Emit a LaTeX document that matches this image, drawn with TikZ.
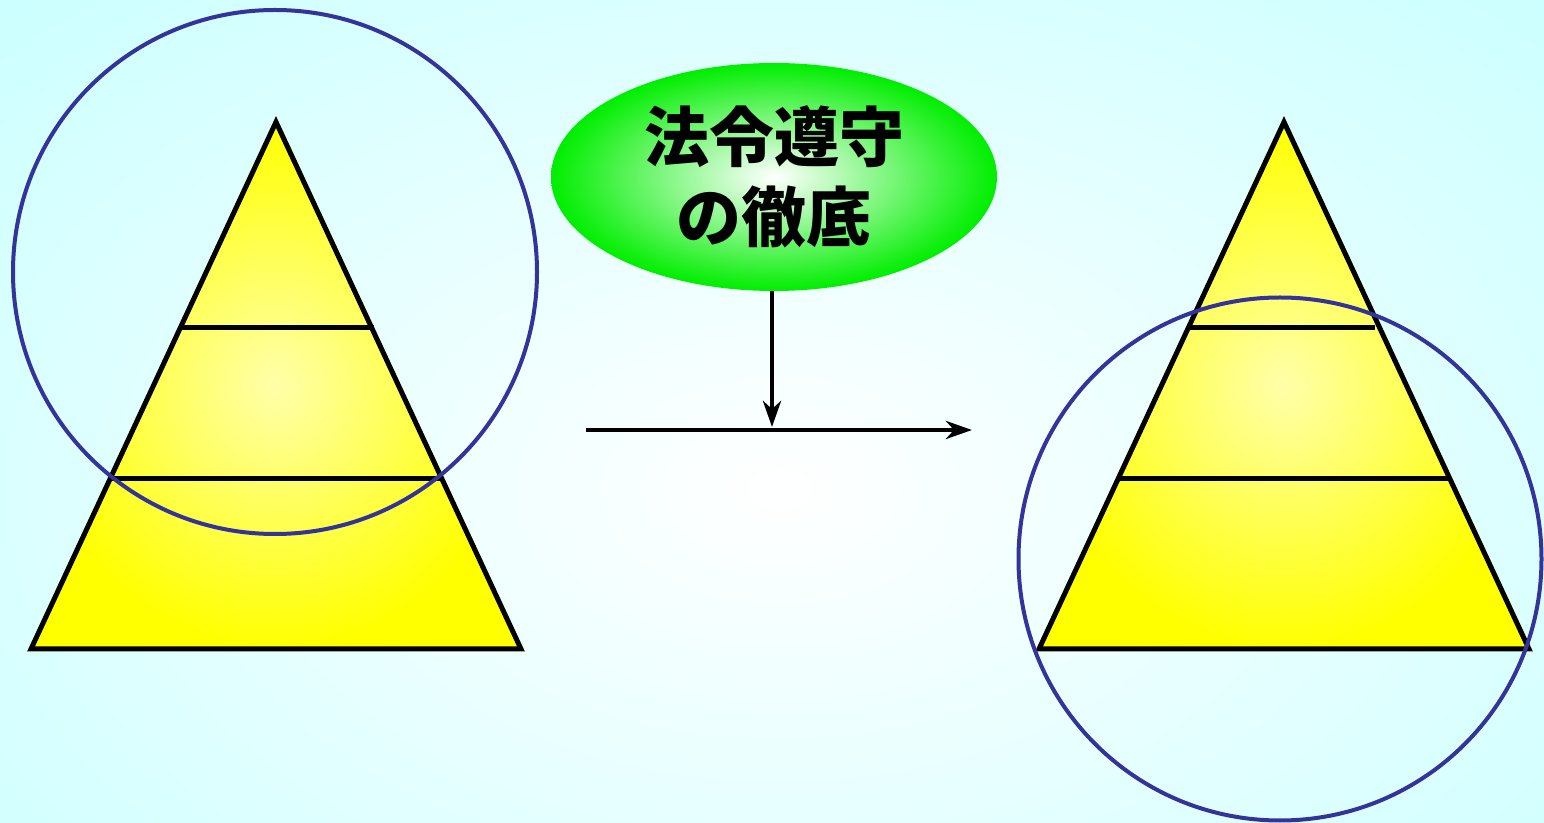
\documentclass[tikz,border=0pt]{standalone}
\usepackage{fontspec}
\newfontfamily\cjk{Noto Sans CJK JP}
\usetikzlibrary{shapes.geometric,arrows.meta}
\definecolor{bgcyan}{HTML}{CCFFFF}
\definecolor{ringblue}{HTML}{333399}
\definecolor{lightyel}{HTML}{FFFFAA}
\definecolor{brightgreen}{HTML}{00EE00}
\tikzset{
  pyramid/.style={draw=black, line width=2.5pt, line join=miter, shading=radial, inner color=lightyel, outer color=yellow},
  tier/.style={draw=black, line width=2.5pt},
  ring/.style={draw=ringblue, line width=2pt},
  flow/.style={draw=black, line width=2.4pt, -{Stealth[length=13pt, width=9pt, inset=4pt]}},
  goal/.style={ellipse, minimum width=223pt, minimum height=114pt, inner sep=0pt, shading=radial, inner color=white, outer color=brightgreen, font=\cjk\bfseries\fontsize{32.5}{40}\selectfont, align=center, text=black}
}
\begin{document}
\begin{tikzpicture}[x=0.5pt,y=-0.5pt]
\useasboundingbox (0,0) rectangle (1544,823);
\shade[inner color=white, outer color=bgcyan] (-300,-200) rectangle (1860,1180);
% left pyramid
\coordinate (LA) at (276,122);
\coordinate (LB) at (31,649);
\coordinate (LC) at (521,649);
\path[pyramid] (LA) -- (LB) -- (LC) -- cycle;
\coordinate (L1a) at (181,328); \coordinate (L1b) at (374,328);
\coordinate (L2a) at (111,479); \coordinate (L2b) at (441,479);
\draw[tier] (L1a) -- (L1b);
\draw[tier] (L2a) -- (L2b);
% right pyramid
\coordinate (RA) at (1284,122);
\coordinate (RB) at (1039,649);
\coordinate (RC) at (1529,649);
\path[pyramid] (RA) -- (RB) -- (RC) -- cycle;
\coordinate (R1a) at (1190,328); \coordinate (R1b) at (1375,328);
\coordinate (R2a) at (1119,479); \coordinate (R2b) at (1449,479);
\draw[tier] (R1a) -- (R1b);
\draw[tier] (R2a) -- (R2b);
% rings
\node[ring, circle, minimum size=262pt, inner sep=0pt] (lring) at (275,272) {};
\node[ring, circle, minimum size=261.5pt, inner sep=0pt] (rring) at (1280,559) {};
% goal
\node[goal] (goal) at (774,177) {法令遵守\\の徹底};
% arrows
\coordinate (hs) at (586,430);
\coordinate (he) at (972,430);
\coordinate (vj) at (772,427);
\draw[flow] (hs) -- (he);
\draw[flow] (goal.south -| vj) -- (vj);
\end{tikzpicture}
\end{document}
